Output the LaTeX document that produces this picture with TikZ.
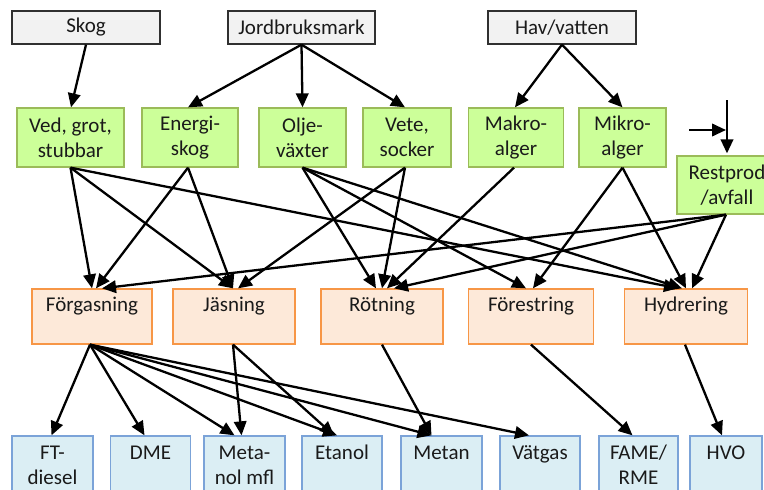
\documentclass[tikz,border=0pt]{standalone}
\usepackage{fontspec}
\setmainfont{Carlito}
\usetikzlibrary{arrows.meta,calc}
\definecolor{topfill}{HTML}{F2F2F2}
\definecolor{topdraw}{HTML}{303030}
\definecolor{gfill}{HTML}{CCFF99}
\definecolor{gdraw}{HTML}{9BBB59}
\definecolor{ofill}{HTML}{FDE9D9}
\definecolor{odraw}{HTML}{F79646}
\definecolor{bfill}{HTML}{DBEEF4}
\definecolor{bdraw}{HTML}{7BA3D8}
\definecolor{txt}{HTML}{1A1A1A}
\begin{document}
\begin{tikzpicture}[x=1pt,y=-1pt,
  base/.style={draw, line width=1.3pt, inner sep=0pt, font=\fontsize{21}{25}\selectfont, text=txt, align=center},
  topbox/.style={base, fill=topfill, draw=topdraw, minimum height=33pt},
  gbox/.style={base, fill=gfill, draw=gdraw, minimum height=59pt},
  obox/.style={base, fill=ofill, draw=odraw, text height=22pt, text depth=33pt},
  bbox/.style={base, fill=bfill, draw=bdraw, text height=23pt, text depth=37pt},
  bboxtwo/.style={base, fill=bfill, draw=bdraw, text height=48pt, text depth=12pt},
  arr/.style={-{Triangle[length=14pt,width=12.5pt]}, line width=2.3pt, draw=black}]
\clip (0,0) rectangle (764,490);
\fill[white] (0,0) rectangle (764,490);
% top row
\node[topbox, minimum width=148pt] (skog) at (86,27.5) {Skog};
\node[topbox, minimum width=147pt] (jord) at (301.5,27.5) {Jordbruksmark};
\node[topbox, minimum width=148pt] (hav) at (562,27.5) {Hav/vatten};
% green row
\node[gbox, minimum width=107pt] (ved) at (70.5,137.5) {Ved, grot,\\stubbar};
\node[gbox, minimum width=96pt] (energi) at (190,137.5) {Energi-\\skog};
\node[gbox, minimum width=87pt] (olje) at (302.5,137.5) {Olje-\\växter};
\node[gbox, minimum width=88pt] (vete) at (407,137.5) {Vete,\\socker};
\node[gbox, minimum width=95pt] (makro) at (516,137.5) {Makro-\\alger};
\node[gbox, minimum width=87pt] (mikro) at (622.5,137.5) {Mikro-\\alger};
\node[gbox, minimum width=100pt, minimum height=58pt] (rest) at (727,185) {Restprod\\/avfall};
% orange row
\node[obox, minimum width=120pt] (forg) at (92,316.5) {Förgasning};
\node[obox, minimum width=122pt] (jas) at (234,316.5) {Jäsning};
\node[obox, minimum width=122pt] (rot) at (382,316.5) {Rötning};
\node[obox, minimum width=125pt] (fore) at (531,316.5) {Förestring};
\node[obox, minimum width=123pt] (hyd) at (686,316.5) {Hydrering};
% blue row
\node[bboxtwo, minimum width=81pt] (ft) at (52.5,466) {FT-\\diesel};
\node[bbox, minimum width=80pt] (dme) at (150.5,466) {DME};
\node[bboxtwo, minimum width=81pt] (meta) at (244.5,466) {Meta-\\nol mfl};
\node[bbox, minimum width=80pt] (etanol) at (342,466) {Etanol};
\node[bbox, minimum width=81pt] (metan) at (441.5,466) {Metan};
\node[bbox, minimum width=80pt] (vatgas) at (540,466) {Vätgas};
\node[bboxtwo, minimum width=79pt] (fame) at (638.5,466) {FAME/\\RME};
\node[bbox, minimum width=72pt] (hvo) at (726,466) {HVO};
% top -> green
\draw[arr] (skog.south) -- ([xshift=0.5pt]ved.north);
\draw[arr] (jord.south) -- ([xshift=-2pt]energi.north);
\draw[arr] (jord.south) -- (olje.north);
\draw[arr] (jord.south) -- ([xshift=-2pt]vete.north);
\draw[arr] (hav.south) -- ([xshift=-1pt]makro.north);
\draw[arr] (hav.south) -- (mikro.north);
% inputs to restprod
\coordinate (rin) at (727,100);
\coordinate (lin) at (689,130);
\draw[arr] (rin) -- ([yshift=2pt]rest.north);
\draw[arr, shorten >=1pt] (lin) -- (lin -| rin);
% green -> orange
\draw[arr] (ved.south) -- (forg.north);
\draw[arr] (ved.south) -- ([xshift=-1pt]jas.north);
\draw[arr] (ved.south) -- ([xshift=-8pt]hyd.north);
\draw[arr] ([xshift=-2pt]energi.south) -- ([xshift=4pt]forg.north);
\draw[arr] ([xshift=-2pt]energi.south) -- ([xshift=-1pt]jas.north);
\draw[arr] (olje.south) -- ([xshift=-6pt]rot.north);
\draw[arr] (olje.south) -- ([xshift=-5pt]fore.north);
\draw[arr] (olje.south) -- ([xshift=-4pt]hyd.north);
\draw[arr] ([xshift=-2pt]vete.south) -- ([xshift=4pt]jas.north);
\draw[arr] ([xshift=-2pt]vete.south) -- (rot.north);
\draw[arr] ([xshift=-2pt]makro.south) -- ([xshift=5pt]rot.north);
\draw[arr] (mikro.south) -- ([xshift=2pt]fore.north);
\draw[arr] (mikro.south) -- (hyd.north);
\draw[arr] ([xshift=-1pt]rest.south) -- ([xshift=10pt]forg.north);
\draw[arr] ([xshift=-1pt]rest.south) -- ([xshift=12pt]rot.north);
\draw[arr] ([xshift=-1pt]rest.south) -- ([xshift=6pt]hyd.north);
% orange -> blue
\draw[arr] ([xshift=-2pt]forg.south) -- ([xshift=-1pt]ft.north);
\draw[arr] ([xshift=-2pt]forg.south) -- ([xshift=-6pt]dme.north);
\draw[arr] ([xshift=-2pt]forg.south) -- ([xshift=-10pt]meta.north);
\draw[arr] ([xshift=-2pt]forg.south) -- ([xshift=-5pt]etanol.north);
\draw[arr] ([xshift=-2pt]forg.south) -- ([xshift=-10pt]metan.north);
\draw[arr] ([xshift=-2pt]forg.south) -- ([xshift=-11pt]vatgas.north);
\draw[arr] ([xshift=-1pt]jas.south) -- ([xshift=-3pt]meta.north);
\draw[arr] ([xshift=-1pt]jas.south) -- ([xshift=-8pt]etanol.north);
\draw[arr] (rot.south) -- ([xshift=-10pt]metan.north);
\draw[arr] (fore.south) -- ([xshift=-6pt]fame.north);
\draw[arr] ([xshift=-1pt]hyd.south) -- ([xshift=-4pt]hvo.north);
\end{tikzpicture}
\end{document}
